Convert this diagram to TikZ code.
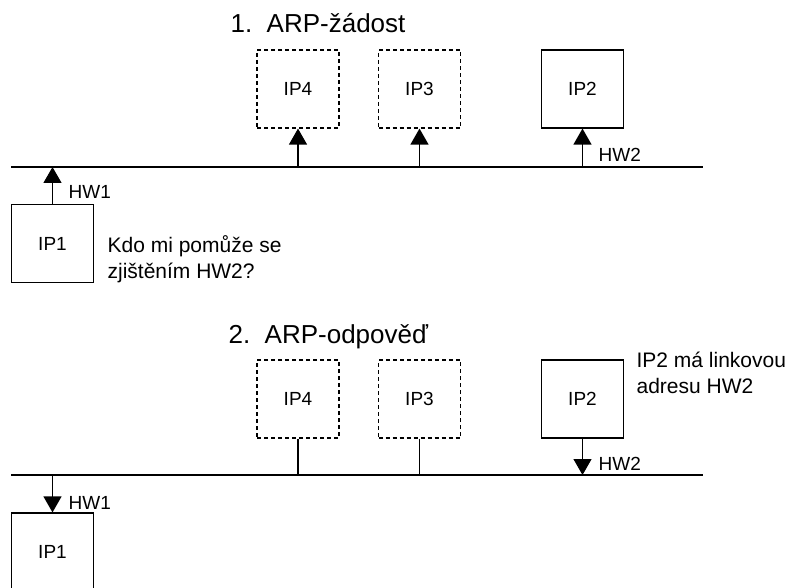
\documentclass[tikz,border=0pt]{standalone}
\usepackage{fontspec}
\setmainfont{Liberation Sans}
\usetikzlibrary{arrows.meta}
\begin{document}
\begin{tikzpicture}[x=1pt,y=-1pt,
  line width=1.2pt,
  host/.style={draw, minimum width=82pt, minimum height=78pt, inner sep=0pt, font=\fontsize{19}{22}\selectfont},
  ghost/.style={host, dash pattern=on 4pt off 3pt},
  lbl/.style={inner sep=0pt, anchor=base west, font=\fontsize{19}{22}\selectfont},
  note/.style={inner sep=0pt, anchor=base west, align=left, font=\fontsize{21}{26}\selectfont},
  ttl/.style={inner sep=0pt, anchor=base west, font=\fontsize{26}{30}\selectfont},
  arr/.style={-{Triangle[width=18pt,length=16pt]}},
  bus/.style={line width=1.2pt}]
\useasboundingbox (0,0) rectangle (785,588);
\clip (0,0) rectangle (785,588);
% ---------- part 1 ----------
\node[ttl] (t1) at (230,33) {1.\ \ ARP-žádost};
\node[ghost] (a4) at (298,89) {IP4};
\node[ghost] (a3) at (419.5,89) {IP3};
\node[host]  (a2) at (582.5,89) {IP2};
\node[host]  (a1) at (52.5,243.5) {IP1};
\coordinate (b1l) at (11,167);
\coordinate (b1r) at (703,167);
\draw[bus] (b1l) -- (b1r);
\coordinate (b1p1) at (52.5,167);
\coordinate (b1p4) at (298,167);
\coordinate (b1p3) at (419.5,167);
\coordinate (b1p2) at (582.5,167);
\draw[arr] (a1.north) -- (b1p1);
\draw[arr] (b1p4) -- (a4.south);
\draw[arr] (b1p3) -- (a3.south);
\draw[arr] (b1p2) -- (a2.south);
\node[lbl] (hw1a) at (68,199) {HW1};
\node[lbl] (hw2a) at (598,162) {HW2};
\node[note] (q) at (107,279) {Kdo mi pomůže se\\zjištěním HW2?};
% ---------- part 2 ----------
\node[ttl] (t2) at (228,343) {2.\ \ ARP-odpověď};
\node[ghost] (c4) at (298,399) {IP4};
\node[ghost] (c3) at (419.5,399) {IP3};
\node[host]  (c2) at (582.5,399) {IP2};
\node[host]  (c1) at (52.5,552) {IP1};
\coordinate (b2l) at (11,475);
\coordinate (b2r) at (703,475);
\draw[bus] (b2l) -- (b2r);
\coordinate (b2p1) at (52.5,475);
\coordinate (b2p4) at (298,475);
\coordinate (b2p3) at (419.5,475);
\coordinate (b2p2) at (582.5,475);
\draw (c4.south) -- (b2p4);
\draw (c3.south) -- (b2p3);
\draw[arr] (c2.south) -- (b2p2);
\draw[arr] (b2p1) -- (c1.north);
\node[lbl] (hw1b) at (68,509) {HW1};
\node[lbl] (hw2b) at (598,470) {HW2};
\node[note] (ans) at (636,393) {IP2 má linkovou\\adresu HW2};
\end{tikzpicture}
\end{document}
